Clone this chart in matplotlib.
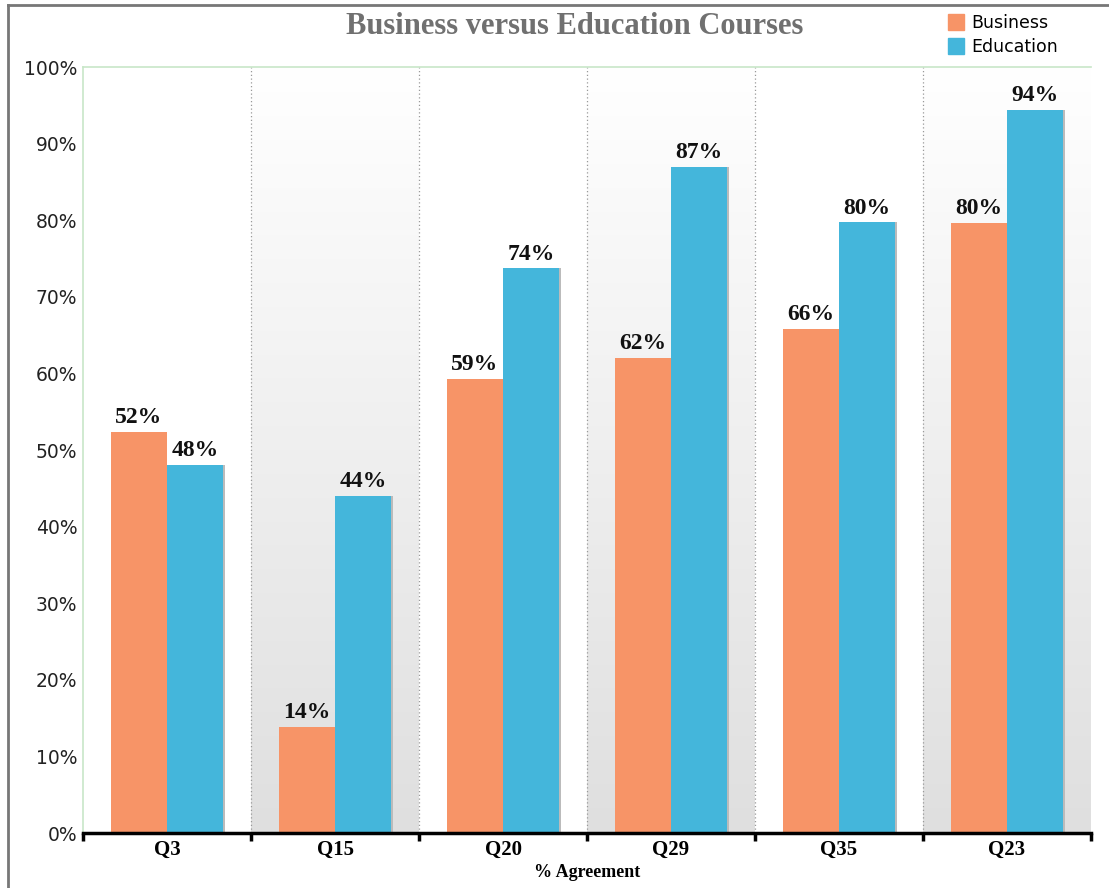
import matplotlib
matplotlib.use("Agg")
import matplotlib.pyplot as plt
import numpy as np
from matplotlib.patches import Rectangle
from matplotlib.lines import Line2D
from matplotlib.colors import LinearSegmentedColormap

categories = ["Q3", "Q15", "Q20", "Q29", "Q35", "Q23"]
business = [52.4, 13.9, 59.3, 62.0, 65.8, 79.6]
education = [48.0, 44.0, 73.7, 87.0, 79.7, 94.4]
business_labels = ["52%", "14%", "59%", "62%", "66%", "80%"]
education_labels = ["48%", "44%", "74%", "87%", "80%", "94%"]
yticks = [0, 10, 20, 30, 40, 50, 60, 70, 80, 90, 100]
ytick_labels = [f"{v}%" for v in yticks]

c_bus = "#F79467"
c_edu = "#44B6DB"

fig = plt.figure(figsize=(11.09, 8.88), dpi=100)
ax = fig.add_axes([83/1109, 1-833/888, (1091-83)/1109, (833-67)/888])

n = len(categories)
x = np.arange(n)

# gradient bands (white at top, light gray at bottom)
grad = np.linspace(0, 1, 256).reshape(-1, 1)
cmap = LinearSegmentedColormap.from_list("g", ["#FFFFFF", "#DFDFDF"])
for i in range(n):
    if i % 2 == 1:
        ax.imshow(grad, extent=(i-0.5, i+0.5, 0, 100), origin="upper", cmap=cmap,
                  aspect="auto", zorder=0, interpolation="bilinear")
ax.set_ylim(0, 100)
ax.set_xlim(-0.5, n-0.5)

# separators
for i in range(1, n):
    ax.axvline(i-0.5, color="#999999", linestyle=(0, (1, 2)), linewidth=0.9, zorder=1)

w = 1/3
ax.bar(x - w/2, business, width=w, color=c_bus, zorder=3, linewidth=0)
ax.bar(x + w/2, education, width=w, color=c_edu, zorder=3, linewidth=0)
for xi, v in zip(x, education):
    ax.add_patch(Rectangle((xi + w, 0), 0.012, v, color="#BBBBBB", zorder=2, linewidth=0))

for xi, v, lab in zip(x, business, business_labels):
    ax.text(xi - w/2, v + 0.5, lab, ha="center", va="bottom", fontsize=17,
            fontweight="bold", family="Liberation Serif", color="#111111", zorder=4)
for xi, v, lab in zip(x, education, education_labels):
    ax.text(xi + w/2, v + 0.5, lab, ha="center", va="bottom", fontsize=17,
            fontweight="bold", family="Liberation Serif", color="#111111", zorder=4)

ax.set_yticks(yticks)
ax.set_yticklabels(ytick_labels, fontsize=13.5, family="DejaVu Sans", color="#222222")
ax.tick_params(axis="y", length=0, pad=4)
ax.set_xticks(x)
ax.set_xticklabels(categories, fontsize=15, fontweight="bold", family="Liberation Serif")
ax.tick_params(axis="x", length=0, pad=5)
ax.set_xticks(np.arange(n+1) - 0.5, minor=True)
ax.tick_params(axis="x", which="minor", length=6, width=2.5, color="black")

ax.spines["right"].set_visible(False)
ax.spines["top"].set_color("#C8E6C8")
ax.spines["left"].set_color("#C8E6C8")
ax.spines["top"].set_linewidth(1.2)
ax.spines["left"].set_linewidth(1.2)
ax.spines["bottom"].set_color("black")
ax.spines["bottom"].set_linewidth(2.5)
ax.spines["bottom"].set_zorder(5)

ax.set_xlabel("% Agreement", fontsize=13, fontweight="bold", family="Liberation Serif", labelpad=3)

fig.text(575/1109, 1-26/888, "Business versus Education Courses", ha="center", va="center",
         fontsize=22, fontweight="bold", family="Liberation Serif", color="#707070")

handles = [Line2D([], [], marker="s", linestyle="none", markersize=12, color=c_bus),
           Line2D([], [], marker="s", linestyle="none", markersize=12, color=c_edu)]
fig.legend(handles, ["Business", "Education"], loc="upper left", bbox_to_anchor=(940/1109, 1-7/888),
           frameon=False, handletextpad=0.4, labelspacing=0.35, borderaxespad=0,
           handlelength=1.0, prop={"family": "DejaVu Sans", "size": 12.5})

fig.add_artist(Line2D([8/1109, 8/1109], [0, 1-5/888], color="#777777", linewidth=2, transform=fig.transFigure))
fig.add_artist(Line2D([8/1109, 1], [1-5/888, 1-5/888], color="#777777", linewidth=2, transform=fig.transFigure))

fig.savefig("out.png", dpi=100)
